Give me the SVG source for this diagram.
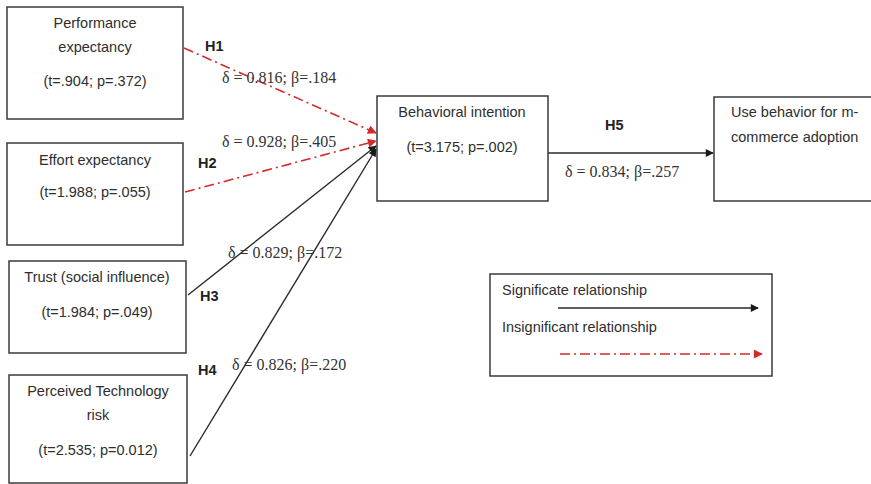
<svg xmlns="http://www.w3.org/2000/svg" width="871" height="484" viewBox="0 0 871 484">
  <style>
    .box { fill: #ffffff; stroke: #3a3a3a; stroke-width: 1.5; }
    .lbl { font-family: "Liberation Sans", Arial, sans-serif; font-size: 14.5px; fill: #2e2e2e; }
    .hyp { font-family: "Liberation Sans", Arial, sans-serif; font-size: 14.5px; font-weight: bold; fill: #222222; }
    .stat { font-family: "Liberation Serif", "Times New Roman", serif; font-size: 16px; fill: #333333; }
    .sig { stroke: #2a2a2a; stroke-width: 1.4; fill: none; }
    .insig { stroke: #d42a2a; stroke-width: 1.6; fill: none; stroke-dasharray: 10 4 2 4; }
  </style>
  <defs>
    <marker id="arrowBlack" viewBox="0 0 10 10" refX="9" refY="5" markerWidth="9" markerHeight="8" markerUnits="userSpaceOnUse" orient="auto">
      <path d="M0,0 L10,5 L0,10 z" fill="#1a1a1a"/>
    </marker>
    <marker id="arrowRed" viewBox="0 0 10 10" refX="9" refY="5" markerWidth="10" markerHeight="9" markerUnits="userSpaceOnUse" orient="auto">
      <path d="M0,0 L10,5 L0,10 z" fill="#d42a2a"/>
    </marker>
  </defs>

  <rect width="871" height="484" fill="#ffffff"/>

  <!-- connectors -->
  <g id="connectors">
    <line class="insig" x1="184" y1="48" x2="376" y2="133" marker-end="url(#arrowRed)"/>
    <line class="insig" x1="185" y1="192" x2="376" y2="141" marker-end="url(#arrowRed)"/>
    <line class="sig" x1="188" y1="295" x2="376" y2="146" marker-end="url(#arrowBlack)"/>
    <line class="sig" x1="190" y1="456" x2="376" y2="149" marker-end="url(#arrowBlack)"/>
    <line class="sig" x1="548" y1="153" x2="713" y2="153" marker-end="url(#arrowBlack)"/>

    <text class="hyp" x="205" y="51">H1</text>
    <text class="hyp" x="198" y="168">H2</text>
    <text class="hyp" x="200" y="301">H3</text>
    <text class="hyp" x="198" y="375">H4</text>
    <text class="hyp" x="605" y="130">H5</text>

    <text class="stat" x="222" y="83">δ = 0.816; β=.184</text>
    <text class="stat" x="222" y="147">δ = 0.928; β=.405</text>
    <text class="stat" x="228" y="258">δ = 0.829; β=.172</text>
    <text class="stat" x="232" y="370">δ = 0.826; β=.220</text>
    <text class="stat" x="565" y="177">δ = 0.834; β=.257</text>
  </g>

  <!-- nodes -->
  <g id="performance">
    <rect class="box" x="7" y="7" width="176" height="112"/>
    <text class="lbl" x="95" y="28" text-anchor="middle">Performance</text>
    <text class="lbl" x="95" y="52" text-anchor="middle">expectancy</text>
    <text class="lbl" x="95" y="86" text-anchor="middle">(t=.904; p=.372)</text>
  </g>

  <g id="effort">
    <rect class="box" x="7" y="143" width="176" height="102"/>
    <text class="lbl" x="95" y="165" text-anchor="middle">Effort expectancy</text>
    <text class="lbl" x="95" y="197" text-anchor="middle">(t=1.988; p=.055)</text>
  </g>

  <g id="trust">
    <rect class="box" x="9" y="261" width="177" height="92"/>
    <text class="lbl" x="97" y="282" text-anchor="middle">Trust (social influence)</text>
    <text class="lbl" x="97" y="317" text-anchor="middle">(t=1.984; p=.049)</text>
  </g>

  <g id="risk">
    <rect class="box" x="9" y="375" width="178" height="108"/>
    <text class="lbl" x="98" y="396" text-anchor="middle">Perceived Technology</text>
    <text class="lbl" x="98" y="420" text-anchor="middle">risk</text>
    <text class="lbl" x="98" y="455" text-anchor="middle">(t=2.535; p=0.012)</text>
  </g>

  <g id="intention">
    <rect class="box" x="377" y="96" width="171" height="105"/>
    <text class="lbl" x="462" y="117" text-anchor="middle">Behavioral intention</text>
    <text class="lbl" x="462" y="152" text-anchor="middle">(t=3.175; p=.002)</text>
  </g>

  <g id="use-behavior">
    <rect class="box" x="714" y="97" width="170" height="104"/>
    <text class="lbl" x="731" y="117">Use behavior for m-</text>
    <text class="lbl" x="731" y="142">commerce adoption</text>
  </g>

  <g id="legend">
    <rect class="box" x="490" y="274" width="282" height="102"/>
    <text class="lbl" x="502" y="295">Significate relationship</text>
    <line class="sig" x1="558" y1="308" x2="758" y2="308" marker-end="url(#arrowBlack)"/>
    <text class="lbl" x="502" y="332">Insignificant relationship</text>
    <line class="insig" x1="560" y1="354" x2="762" y2="354" marker-end="url(#arrowRed)"/>
  </g>
</svg>
